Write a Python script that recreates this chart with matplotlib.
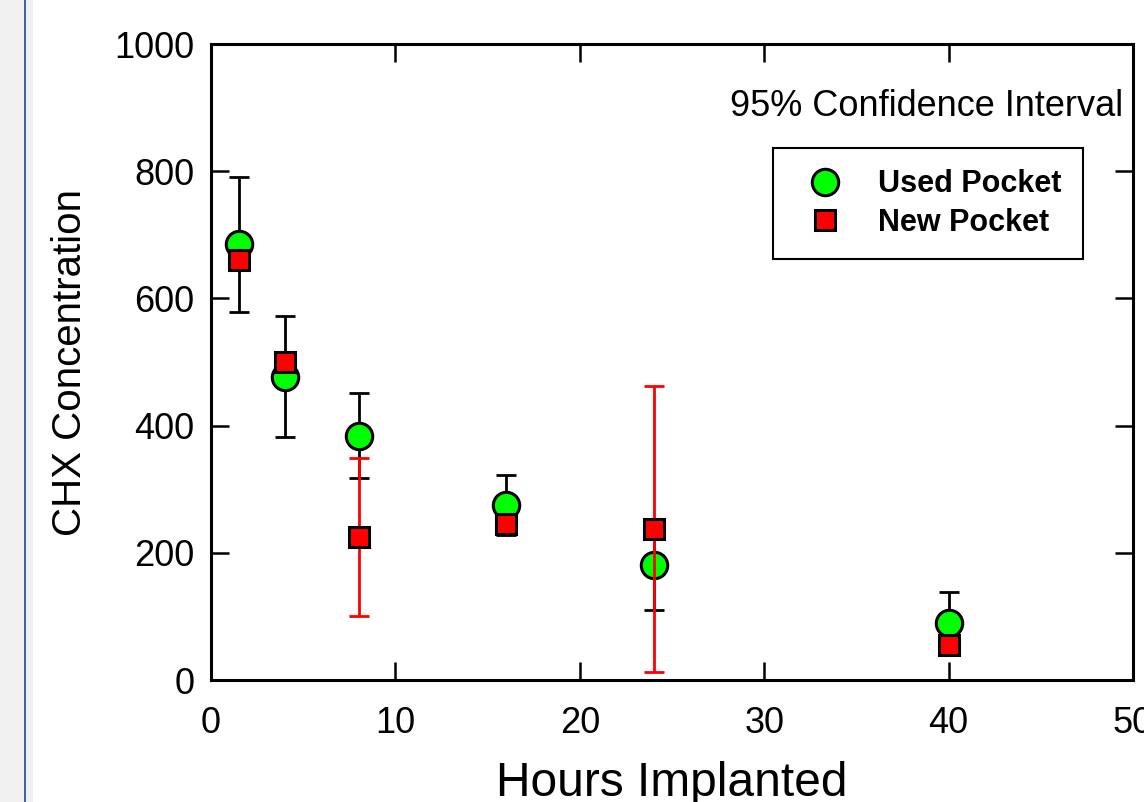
import matplotlib
matplotlib.use("Agg")
import matplotlib.pyplot as plt
from matplotlib.lines import Line2D
from matplotlib.patches import Rectangle

plt.rcParams['font.family'] = ['Liberation Sans', 'DejaVu Sans']

# datos
horas = [1.5, 4, 8, 16, 24, 40]
usado = [685, 477, 384, 275, 181, 90]
usado_err = [106, 95, 67, 47, 71, 48]
nuevo = [660, 500, 225, 245, 237, 55]
nuevo_err = [0, 0, 124, 0, 225, 0]

fig = plt.figure(figsize=(11.44, 8.02), dpi=100)
ax = fig.add_axes([211 / 1144, 1 - 680 / 802, 922 / 1144, 636 / 802])

# franja gris de la izquierda
fig.patches.append(Rectangle((0, 0), 24 / 1144, 1, transform=fig.transFigure,
                             facecolor='#f0f0f0', edgecolor='none'))
fig.patches.append(Rectangle((24 / 1144, 0), 2 / 1144, 1, transform=fig.transFigure,
                             facecolor='#41689c', edgecolor='none'))
fig.patches.append(Rectangle((26 / 1144, 0), 7 / 1144, 1, transform=fig.transFigure,
                             facecolor='#f0f0f0', edgecolor='none'))

ax.errorbar(horas, usado, yerr=usado_err, fmt='none', ecolor='black',
            elinewidth=2, capsize=7.5, capthick=2, zorder=2)
ax.plot(horas, usado, linestyle='none', marker='o', markersize=19,
        markerfacecolor='#00ff00', markeredgecolor='black', markeredgewidth=2.2, zorder=3)
ax.errorbar(horas, nuevo, yerr=nuevo_err, fmt='none', ecolor='red',
            elinewidth=2, capsize=7.5, capthick=2, zorder=4)
ax.plot(horas, nuevo, linestyle='none', marker='s', markersize=15,
        markerfacecolor='red', markeredgecolor='black', markeredgewidth=2.2, zorder=5)

ax.set_xlim(0, 50)
ax.set_ylim(0, 1000)
ax.set_xticks([0, 10, 20, 30, 40, 50])
ax.set_yticks([0, 200, 400, 600, 800, 1000])
for s in ax.spines.values():
    s.set_linewidth(2.2)
ax.tick_params(direction='in', length=13, width=1.8, top=True, right=True,
               labelsize=26)
ax.tick_params(axis='x', pad=19)
ax.tick_params(axis='y', pad=12)

ax.set_xlabel("Hours Implanted", fontsize=34.5, labelpad=14)
ax.set_ylabel("CHX Concentration", fontsize=29, labelpad=18)

ax.text(0.989, 0.902, "95% Confidence Interval", transform=ax.transAxes,
        ha='right', va='center', fontsize=26)

handles = [
    Line2D([], [], linestyle='none', marker='o', markersize=19,
           markerfacecolor='#00ff00', markeredgecolor='black', markeredgewidth=2.2),
    Line2D([], [], linestyle='none', marker='s', markersize=15,
           markerfacecolor='red', markeredgecolor='black', markeredgewidth=2.2),
]
leg = ax.legend(handles, ["Used Pocket", "New Pocket"], loc='upper right',
                bbox_to_anchor=(0.9458, 0.8365), borderaxespad=0,
                prop={'size': 22, 'weight': 'bold'}, fancybox=False,
                edgecolor='black', framealpha=1, labelspacing=0.28,
                handletextpad=0.75, borderpad=0.7, handlelength=2.0)
leg.get_frame().set_linewidth(1.5)

fig.savefig("out.png", dpi=100)
